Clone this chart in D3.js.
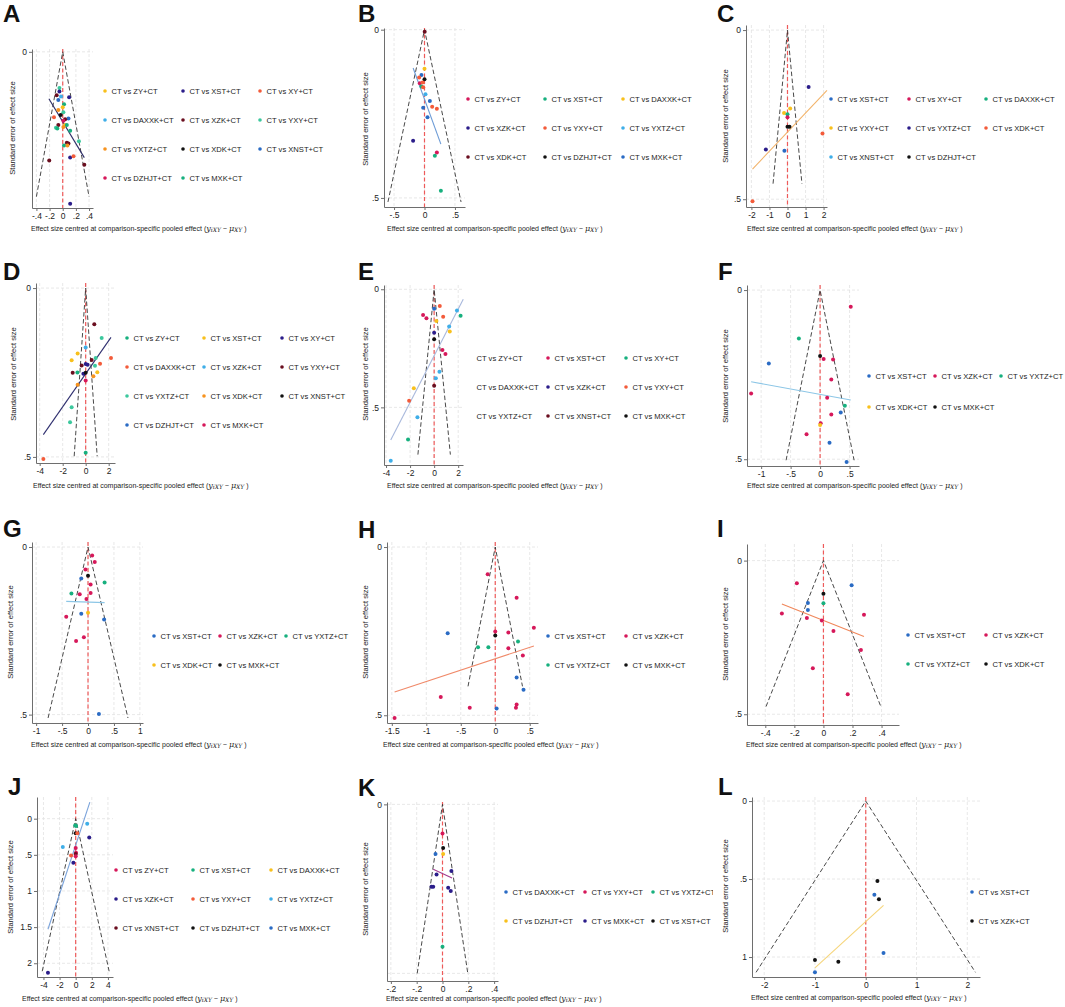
<!DOCTYPE html>
<html>
<head>
<meta charset="utf-8">
<script src="https://cdn.jsdelivr.net/npm/d3@7"></script>
<style>
  body { margin: 0; background: #fff; }
  svg { display: block; }
  text { font-family: "Liberation Sans", Arial, sans-serif; }
</style>
</head>
<body>
<svg id="chart" width="1065" height="1007"></svg>
<script>
// ---- data: points are [effect size centred, standard error, comparison] ----
const seriesA = ['ZY', 'XST', 'XY', 'DAXXK', 'XZK', 'YXY', 'YXTZ', 'XDK', 'XNST', 'DZHJT', 'MXK'];
const pointsA = [
    [-0.05, 0.051, 'YXY'], [-0.05, 0.056, 'XST'], [-0.092, 0.061, 'XZK'], [-0.026, 0.063, 'DAXXK'],
    [-0.067, 0.068, 'XNST'], [0.097, 0.064, 'XST'], [0.02, 0.074, 'MXK'], [0, 0.078, 'ZY'],
    [-0.067, 0.082, 'YXTZ'], [0.01, 0.085, 'YXY'], [-0.133, 0.092, 'XY'], [-0.031, 0.089, 'XDK'],
    [0.087, 0.094, 'XNST'], [0.036, 0.095, 'XZK'], [0.01, 0.097, 'DZHJT'], [-0.067, 0.103, 'XZK'],
    [0.036, 0.103, 'ZY'], [0.062, 0.103, 'MXK'], [-0.103, 0.107, 'YXY'], [-0.082, 0.108, 'MXK'],
    [0.01, 0.106, 'YXTZ'], [0.113, 0.111, 'MXK'], [0.246, 0.126, 'YXY'], [0.062, 0.128, 'XZK'],
    [0.087, 0.129, 'XZK'], [0.02, 0.132, 'MXK'], [0.072, 0.132, 'YXTZ'], [0.113, 0.149, 'XST'],
    [0.164, 0.147, 'XY'], [-0.205, 0.153, 'XZK'], [0.328, 0.159, 'XZK'], [0.113, 0.214, 'XST']
];
const fitA = [[-0.21, 0.066], [0.328, 0.149]];
const funnelA = [0.4, 0.204];
const xTicksA = [-0.4, -0.2, 0, 0.2, 0.4];
const yTicksA = [0];

const seriesB = ['ZY', 'XST', 'DAXXK', 'XZK', 'YXY', 'YXTZ', 'XDK', 'DZHJT', 'MXK'];
const pointsB = [
    [0.003, 0.006, 'XDK'], [0, 0.116, 'DAXXK'], [-0.05, 0.135, 'MXK'], [-0.088, 0.142, 'YXY'],
    [0, 0.147, 'DZHJT'], [-0.077, 0.159, 'ZY'], [-0.033, 0.157, 'YXY'], [-0.05, 0.169, 'XST'],
    [-0.022, 0.171, 'YXY'], [0.016, 0.192, 'YXTZ'], [0.088, 0.212, 'MXK'], [0.126, 0.229, 'YXY'],
    [0.203, 0.235, 'YXY'], [-0.022, 0.232, 'MXK'], [0.049, 0.26, 'MXK'], [-0.187, 0.33, 'XZK'],
    [0.203, 0.365, 'ZY'], [0.17, 0.375, 'XST'], [0.269, 0.479, 'XST']
];
const fitB = [[-0.187, 0.114], [0.269, 0.34]];
const funnelB = [0.6, 0.512];
const xTicksB = [-0.5, 0, 0.5];
const yTicksB = [0, 0.5];

const seriesC = ['XST', 'XY', 'DAXXK', 'YXY', 'YXTZ', 'XDK', 'XNST', 'DZHJT'];
const pointsC = [
    [1.17, 0.168, 'YXTZ'], [0.15, 0.232, 'YXY'], [-0.19, 0.245, 'YXY'], [0, 0.249, 'DAXXK'],
    [0, 0.258, 'XY'], [0, 0.286, 'DZHJT'], [0.11, 0.286, 'DZHJT'], [1.94, 0.306, 'XDK'],
    [-1.2, 0.353, 'YXTZ'], [-0.17, 0.357, 'XST'], [-1.94, 0.506, 'XDK']
];
const fitC = [[-1.94, 0.411], [2.19, 0.178]];
const funnelC = [0.8, 0.454];
const xTicksC = [-2, -1, 0, 1, 2];
const yTicksC = [0, 0.5];

const seriesD = ['ZY', 'XST', 'XY', 'DAXXK', 'XZK', 'YXY', 'YXTZ', 'XDK', 'XNST', 'DZHJT', 'MXK'];
const pointsD = [
    [0.75, 0.107, 'YXY'], [1.39, 0.148, 'YXTZ'], [0, 0.176, 'XZK'], [-0.7, 0.194, 'XST'],
    [2.2, 0.207, 'DAXXK'], [0.87, 0.207, 'YXTZ'], [-1.22, 0.214, 'XST'], [0.52, 0.213, 'YXY'],
    [1.25, 0.224, 'DAXXK'], [0, 0.225, 'XY'], [0.17, 0.227, 'XY'], [-0.35, 0.229, 'YXY'],
    [0.81, 0.23, 'YXTZ'], [-0.72, 0.25, 'ZY'], [-1.13, 0.251, 'YXY'], [1.01, 0.249, 'XST'],
    [-0.2, 0.254, 'XY'], [0, 0.251, 'XNST'], [0.67, 0.261, 'XDK'], [0, 0.274, 'MXK'],
    [-0.7, 0.286, 'XDK'], [-1.22, 0.353, 'YXTZ'], [-1.36, 0.397, 'YXTZ'], [0, 0.488, 'ZY'],
    [-3.68, 0.506, 'DAXXK']
];
const fitD = [[-3.68, 0.434], [2.2, 0.146]];
const funnelD = [1.0, 0.498];
const xTicksD = [-4, -2, 0, 2];
const yTicksD = [0, 0.5];

const seriesE = ['ZY', 'XST', 'XY', 'DAXXK', 'XZK', 'YXY', 'YXTZ', 'XNST', 'MXK'];
const hiddenMarkersE = ['ZY', 'DAXXK', 'YXTZ'];
const pointsE = [
    [0.47, 0.071, 'YXY'], [0, 0.083, 'DAXXK'], [1.9, 0.09, 'YXTZ'], [2.2, 0.112, 'XY'],
    [-0.92, 0.109, 'XST'], [-0.64, 0.123, 'XST'], [0.75, 0.116, 'YXY'], [0.19, 0.134, 'ZY'],
    [1.25, 0.158, 'YXTZ'], [1.3, 0.179, 'ZY'], [0, 0.184, 'XZK'], [0, 0.212, 'MXK'],
    [0.69, 0.257, 'XST'], [0.94, 0.274, 'XST'], [0.44, 0.349, 'YXTZ'], [0.14, 0.377, 'YXTZ'],
    [0, 0.408, 'XNST'], [-1.69, 0.419, 'ZY'], [-2.08, 0.472, 'YXY'], [-1.39, 0.542, 'YXTZ'],
    [-2.17, 0.636, 'XY'], [-3.61, 0.726, 'YXTZ']
];
const fitE = [[-3.61, 0.638], [2.42, 0.042]];
const funnelE = [1.35, 0.70];
const xTicksE = [-4, -2, 0, 2];
const yTicksE = [0, 0.5];

const seriesF = ['XST', 'XZK', 'YXTZ', 'XDK', 'MXK'];
const pointsF = [
    [0.52, 0.049, 'XZK'], [-0.36, 0.143, 'YXTZ'], [0, 0.195, 'MXK'], [0.06, 0.204, 'XZK'],
    [0.22, 0.205, 'XZK'], [-0.87, 0.217, 'XST'], [0.19, 0.264, 'XZK'], [-1.17, 0.306, 'XZK'],
    [0.12, 0.318, 'XZK'], [0.42, 0.342, 'YXTZ'], [0.35, 0.362, 'XST'], [0.19, 0.368, 'XZK'],
    [0.01, 0.394, 'XZK'], [0, 0.399, 'XDK'], [-0.23, 0.426, 'XZK'], [0.16, 0.451, 'XST'],
    [0.45, 0.508, 'XST']
];
const fitF = [[-1.17, 0.271], [0.52, 0.325]];
const funnelF = [0.577, 0.503];
const xTicksF = [-1, -0.5, 0, 0.5];
const yTicksF = [0, 0.5];

const seriesG = ['XST', 'XZK', 'YXTZ', 'XDK', 'MXK'];
const pointsG = [
    [0.08, 0.025, 'XZK'], [0.13, 0.045, 'XZK'], [-0.05, 0.067, 'XZK'], [0, 0.086, 'MXK'],
    [-0.13, 0.094, 'XST'], [0.32, 0.106, 'YXTZ'], [0.05, 0.112, 'XZK'], [-0.32, 0.139, 'YXTZ'],
    [-0.16, 0.141, 'XZK'], [0.05, 0.137, 'XZK'], [-0.03, 0.155, 'XZK'], [-0.13, 0.199, 'XST'],
    [0, 0.196, 'XDK'], [-0.42, 0.208, 'XZK'], [0.31, 0.216, 'XST'], [-0.08, 0.269, 'XZK'],
    [-0.23, 0.28, 'XZK'], [0.21, 0.498, 'XST']
];
const fitG = [[-0.42, 0.162], [0.32, 0.166]];
const funnelG = [0.77, 0.51];
const xTicksG = [-1, -0.5, 0, 0.5, 1];
const yTicksG = [0, 0.5];

const seriesH = ['XST', 'XZK', 'YXTZ', 'MXK'];
const pointsH = [
    [-0.11, 0.081, 'XZK'], [0.31, 0.151, 'XZK'], [0.56, 0.24, 'XZK'], [-0.69, 0.256, 'XST'],
    [0, 0.251, 'XZK'], [0.19, 0.254, 'XZK'], [0, 0.263, 'MXK'], [0.33, 0.281, 'YXTZ'],
    [-0.25, 0.298, 'YXTZ'], [-0.1, 0.298, 'YXTZ'], [0.19, 0.301, 'XZK'], [0.4, 0.322, 'XZK'],
    [0.31, 0.388, 'XST'], [0.41, 0.424, 'XST'], [-0.79, 0.446, 'XZK'], [0.31, 0.468, 'XZK'],
    [-0.37, 0.478, 'XZK'], [0.3, 0.478, 'XZK'], [0.02, 0.48, 'XST'], [-1.46, 0.508, 'XZK']
];
const fitH = [[-1.46, 0.431], [0.56, 0.294]];
const funnelH = [0.395, 0.414];
const xTicksH = [-1.5, -1, -0.5, 0, 0.5];
const yTicksH = [0, 0.5];

const seriesI = ['XST', 'XZK', 'YXTZ', 'XDK'];
const pointsI = [
    [-0.183, 0.074, 'XZK'], [0.194, 0.08, 'XST'], [0, 0.108, 'XDK'], [-0.107, 0.138, 'XST'],
    [0, 0.139, 'YXTZ'], [-0.107, 0.161, 'XST'], [-0.286, 0.172, 'XZK'], [0.279, 0.176, 'XZK'],
    [-0.114, 0.187, 'XZK'], [-0.011, 0.195, 'XZK'], [0.069, 0.229, 'XZK'], [0.258, 0.291, 'XZK'],
    [-0.073, 0.35, 'XZK'], [0.167, 0.435, 'XZK']
];
const fitI = [[-0.286, 0.141], [0.279, 0.247]];
const funnelI = [0.395, 0.475];
const xTicksI = [-0.4, -0.2, 0, 0.2, 0.4];
const yTicksI = [0, 0.5];

const seriesJ = ['ZY', 'XST', 'DAXXK', 'XZK', 'YXY', 'YXTZ', 'XNST', 'DZHJT', 'MXK'];
const pointsJ = [
    [-0.05, 0.09, 'XST'], [0.05, 0.1, 'XST'], [1.43, 0.07, 'YXTZ'], [0, 0.2, 'DZHJT'],
    [0.2, 0.2, 'YXY'], [1.68, 0.26, 'XZK'], [-1.6, 0.39, 'YXTZ'], [0, 0.405, 'ZY'],
    [-0.57, 0.51, 'YXY'], [0.04, 0.47, 'ZY'], [0, 0.49, 'XNST'], [0, 0.52, 'ZY'],
    [-0.29, 0.61, 'XZK'], [-3.44, 2.13, 'XZK']
];
const fitJ = [[-3.44, 1.53], [1.76, -0.23]];
const funnelJ = [4.15, 2.11];
const xTicksJ = [-4, -2, 0, 2, 4];
const yTicksJ = [0, 0.5, 1, 1.5, 2];

const seriesK = ['DAXXK', 'YXY', 'YXTZ', 'DZHJT', 'MXK', 'XST'];
const pointsK = [
    [0, 0.0173, 'YXY'], [0.005, 0.0258, 'XST'], [0.005, 0.0293, 'DZHJT'], [-0.054, 0.0293, 'DAXXK'],
    [0.069, 0.0394, 'MXK'], [-0.046, 0.0415, 'MXK'], [-0.072, 0.0488, 'MXK'], [-0.085, 0.0488, 'MXK'],
    [0.044, 0.0494, 'MXK'], [0.064, 0.0512, 'MXK'], [0, 0.0843, 'YXTZ']
];
const fitK = [[-0.072, 0.0384], [0.074, 0.0435]];
const funnelK = [0.196, 0.1];
const xTicksK = [-0.4, -0.2, 0, 0.2, 0.4];
const xLabelsK = ['-.2', '-.2', '0', '.2', '.4'];
const yTicksK = [0];
const yGridK = [0, 0.1];

const seriesL = ['XST', 'XZK'];
const pointsL = [
    [0.23, 0.513, 'XZK'], [0.17, 0.6, 'XST'], [0.26, 0.63, 'XZK'], [0.35, 0.974, 'XST'],
    [-1.0, 1.019, 'XZK'], [-0.54, 1.03, 'XZK'], [-1.0, 1.098, 'XST']
];
const fitL = [[-1.0, 1.07], [0.35, 0.669]];
const funnelL = [2.16, 1.098];
const xTicksL = [-2, -1, 0, 1, 2];
const yTicksL = [0, 0.5, 1];

// ---- styles ----
const PALETTE = {
    crimson: '#d6185a', green: '#17b07e', yellow: '#f8c01c', navy: '#2b1d8a',
    tomato: '#f35b3a', sky: '#3faee8', maroon: '#6a0e1f', mint: '#3cc89d',
    orange: '#f7931e', black: '#111111', blue: '#2a6bc4'
};
const colorsA = ['yellow', 'navy', 'tomato', 'sky', 'maroon', 'mint', 'orange', 'black', 'blue', 'crimson', 'green'];
const colorsB = ['crimson', 'green', 'yellow', 'navy', 'tomato', 'sky', 'maroon', 'black', 'blue'];
const colorsC = ['blue', 'crimson', 'green', 'yellow', 'navy', 'tomato', 'sky', 'black'];
const colorsD = ['green', 'yellow', 'navy', 'tomato', 'sky', 'maroon', 'mint', 'orange', 'black', 'blue', 'crimson'];
const colorsE = ['yellow', 'crimson', 'green', 'blue', 'navy', 'tomato', 'sky', 'maroon', 'black'];
const colorsFG = ['blue', 'crimson', 'green', 'yellow', 'black'];
const colorsH = ['blue', 'crimson', 'green', 'black'];
const colorsI = ['blue', 'crimson', 'green', 'black'];
const colorsJ = ['crimson', 'green', 'yellow', 'navy', 'tomato', 'sky', 'maroon', 'black', 'blue'];
const colorsK = ['blue', 'crimson', 'green', 'yellow', 'navy', 'black'];
const colorsL = ['blue', 'black'];

const TEXT = '#222';
const AXIS = '#6e6e6e';
const GRID = '#e2e2e2';

// ---- layout per panel ----
const panels = [
    { id: 'A', letter: [3, 22], box: [32, 93, 49, 208], xDom: [-0.467, 0.46], yDom: [-0.004, 0.22],
      series: seriesA, colors: colorsA, points: pointsA, fit: fitA, fitColor: '#2c2c66', funnel: funnelA,
      xTicks: xTicksA, yTicks: yTicksA, legCols: [105, 183, 260], legRows: [91, 120, 149, 178],
      yTitle: [12, 128], xTitle: [31, 228] },
    { id: 'B', letter: [358, 21.5], box: [384, 465, 28, 207], xDom: [-0.665, 0.665], yDom: [-0.005, 0.527],
      series: seriesB, colors: colorsB, points: pointsB, fit: fitB, fitColor: '#6c9bd6', funnel: funnelB,
      xTicks: xTicksB, yTicks: yTicksB, legCols: [468, 545, 623], legRows: [99, 128, 157],
      yTitle: [365, 119], xTitle: [387, 228] },
    { id: 'C', letter: [717, 22], box: [746, 827, 25, 207], xDom: [-2.3, 2.19], yDom: [-0.015, 0.523],
      series: seriesC, colors: colorsC, points: pointsC, fit: fitC, fitColor: '#f2b36a', funnel: funnelC,
      xTicks: xTicksC, yTicks: yTicksC, legCols: [831, 909, 986], legRows: [99, 128, 157],
      yTitle: [725, 116], xTitle: [747, 228] },
    { id: 'D', letter: [3, 280], box: [36, 115, 283, 463], xDom: [-4.32, 2.55], yDom: [-0.015, 0.518],
      series: seriesD, colors: colorsD, points: pointsD, fit: fitD, fitColor: '#2f2f6f', funnel: funnelD,
      xTicks: xTicksD, yTicks: yTicksD, legCols: [127, 204, 282], legRows: [338, 367, 396, 425],
      yTitle: [13, 374], xTitle: [33, 485] },
    { id: 'E', letter: [358, 280], box: [384, 463, 285, 465], xDom: [-4.17, 2.4], yDom: [-0.018, 0.744],
      series: seriesE, colors: colorsE, hidden: hiddenMarkersE, points: pointsE, fit: fitE, fitColor: '#a8b8dc', funnel: funnelE,
      xTicks: xTicksE, yTicks: yTicksE, legCols: [470, 548, 626], legRows: [358, 387, 416],
      yTitle: [365, 374], xTitle: [387, 485] },
    { id: 'F', letter: [718, 280], box: [747, 859, 285, 466], xDom: [-1.24, 0.66], yDom: [-0.015, 0.52],
      series: seriesF, colors: colorsFG, points: pointsF, fit: fitF, fitColor: '#8cc6e6', funnel: funnelF,
      xTicks: xTicksF, yTicks: yTicksF, legCols: [869, 935, 1001], legRows: [376, 407],
      yTitle: [725, 376], xTitle: [747, 485] },
    { id: 'G', letter: [3, 537], box: [32, 143, 542, 723], xDom: [-1.08, 1.06], yDom: [-0.015, 0.525],
      series: seriesG, colors: colorsFG, points: pointsG, fit: fitG, fitColor: '#8cc6e6', funnel: funnelG,
      xTicks: xTicksG, yTicks: yTicksG, legCols: [154, 220, 286], legRows: [636, 665],
      yTitle: [10, 632], xTitle: [31, 744] },
    { id: 'H', letter: [358, 538], box: [387, 538, 542, 723], xDom: [-1.57, 0.62], yDom: [-0.015, 0.523],
      series: seriesH, colors: colorsH, points: pointsH, fit: fitH, fitColor: '#f08a6a', funnel: funnelH,
      xTicks: xTicksH, yTicks: yTicksH, legCols: [548, 626], legRows: [636, 665],
      yTitle: [365, 632], xTitle: [383, 744] },
    { id: 'I', letter: [717, 537], box: [747, 899, 544, 725], xDom: [-0.526, 0.52], yDom: [-0.054, 0.535],
      series: seriesI, colors: colorsI, points: pointsI, fit: fitI, fitColor: '#f0875a', funnel: funnelI,
      xTicks: xTicksI, yTicks: yTicksI, legCols: [908, 986], legRows: [635, 664],
      yTitle: [725, 634], xTitle: [746, 744] },
    { id: 'J', letter: [8, 795], box: [37, 113, 797, 977], xDom: [-4.8, 4.63], yDom: [-0.3, 2.19],
      series: seriesJ, colors: colorsJ, points: pointsJ, fit: fitJ, fitColor: '#7aa3db', funnel: funnelJ,
      xTicks: xTicksJ, yTicks: yTicksJ, legCols: [116, 193, 271], legRows: [870, 899, 928],
      yTitle: [10, 887], xTitle: [22, 998] },
    { id: 'K', letter: [358, 796], box: [387, 498, 802, 981], xDom: [-0.43, 0.43], yDom: [-0.0014, 0.1045],
      series: seriesK, colors: colorsK, points: pointsK, fit: fitK, fitColor: '#a0388f', funnel: funnelK,
      xTicks: xTicksK, xLabels: xLabelsK, yTicks: yTicksK, yGrid: yGridK, legCols: [506, 585, 653], legRows: [892, 921],
      yTitle: [365, 889], xTitle: [386, 998], clipRight: 713 },
    { id: 'L', letter: [718, 795], box: [752, 980, 797, 977], xDom: [-2.24, 2.25], yDom: [-0.026, 1.128],
      series: seriesL, colors: colorsL, points: pointsL, fit: fitL, fitColor: '#f6d57a', funnel: funnelL,
      xTicks: xTicksL, yTicks: yTicksL, legCols: [972], legRows: [892, 921],
      yTitle: [725, 886], xTitle: [751, 997] }
];

// Stata style numbers: .5, -.2, 1.5
const stataFmt = v => v === 0 ? '0' : String(+v.toFixed(3)).replace(/^(-?)0\./, '$1.');

const svg = d3.select('#chart');
svg.append('rect').attr('width', 1065).attr('height', 1007).attr('fill', '#fff');

panels.forEach(drawPanel);

function drawPanel(p) {
    const [left, right, top, bottom] = p.box;
    const g = svg.append('g').attr('class', 'panel-' + p.id);

    if (p.clipRight) {
        const cid = 'clip-' + p.id;
        svg.append('defs').append('clipPath').attr('id', cid)
            .append('rect').attr('x', 0).attr('y', 0).attr('width', p.clipRight).attr('height', 1007);
        g.attr('clip-path', `url(#${cid})`);
    }

    const x = d3.scaleLinear().domain(p.xDom).range([left, right]);
    const y = d3.scaleLinear().domain(p.yDom).range([top, bottom]);
    const colorOf = code => PALETTE[p.colors[p.series.indexOf(code)]];

    // panel letter
    g.append('text')
        .attr('x', p.letter[0])
        .attr('y', p.letter[1])
        .style('font-size', '24px')
        .style('font-weight', 'bold')
        .style('fill', '#111')
        .text(p.id);

    // grid
    g.selectAll('line.vgrid')
        .data(p.xTicks)
        .join('line')
        .attr('class', 'vgrid')
        .attr('x1', d => x(d)).attr('x2', d => x(d))
        .attr('y1', top).attr('y2', bottom)
        .style('stroke', GRID)
        .style('stroke-width', 0.8)
        .style('stroke-dasharray', '3,2');

    g.selectAll('line.hgrid')
        .data(p.yGrid || p.yTicks)
        .join('line')
        .attr('class', 'hgrid')
        .attr('x1', left).attr('x2', right)
        .attr('y1', d => y(d)).attr('y2', d => y(d))
        .style('stroke', GRID)
        .style('stroke-width', 0.8)
        .style('stroke-dasharray', '3,2');

    // axes
    const xAxis = d3.axisBottom(x)
        .tickValues(p.xTicks)
        .tickFormat((d, i) => p.xLabels ? p.xLabels[i] : stataFmt(d))
        .tickSize(3)
        .tickSizeOuter(0)
        .tickPadding(1.5);
    const xg = g.append('g').attr('transform', `translate(0,${bottom})`).call(xAxis);

    const yAxis = d3.axisLeft(y)
        .tickValues(p.yTicks)
        .tickFormat(stataFmt)
        .tickSize(3)
        .tickSizeOuter(0)
        .tickPadding(2);
    const yg = g.append('g').attr('transform', `translate(${left},0)`).call(yAxis);

    [xg, yg].forEach(ax => {
        ax.select('.domain').style('stroke', AXIS).style('stroke-width', 1);
        ax.selectAll('.tick line').style('stroke', AXIS);
        ax.selectAll('.tick text')
            .style('fill', TEXT)
            .style('font-size', '8.5px')
            .style('font-family', '"Liberation Sans", Arial, sans-serif');
    });

    // null line
    g.append('line')
        .attr('x1', x(0)).attr('x2', x(0))
        .attr('y1', top).attr('y2', bottom)
        .style('stroke', '#ee5a5a')
        .style('stroke-width', 1.2)
        .style('stroke-dasharray', '4,2.5');

    // funnel (pseudo confidence limits)
    const [half, seMax] = p.funnel;
    g.append('path')
        .datum([[-half, seMax], [0, 0], [half, seMax]])
        .attr('d', d3.line().x(d => x(d[0])).y(d => y(d[1])))
        .style('fill', 'none')
        .style('stroke', '#333')
        .style('stroke-width', 0.9)
        .style('stroke-dasharray', '4.5,2.5');

    // small-study effect line
    g.append('path')
        .datum(p.fit)
        .attr('d', d3.line().x(d => x(d[0])).y(d => y(d[1])))
        .style('fill', 'none')
        .style('stroke', p.fitColor)
        .style('stroke-width', 1.1);

    // studies
    g.selectAll('circle.pt')
        .data(p.points)
        .join('circle')
        .attr('class', 'pt')
        .attr('cx', d => x(d[0]))
        .attr('cy', d => y(d[1]))
        .attr('r', 2)
        .style('fill', d => colorOf(d[2]));

    // legend
    const ncol = p.legCols.length;
    const items = g.selectAll('g.leg')
        .data(p.series)
        .join('g')
        .attr('class', 'leg')
        .attr('transform', (d, i) => `translate(${p.legCols[i % ncol]},${p.legRows[Math.floor(i / ncol)]})`);

    items.filter(d => !(p.hidden || []).includes(d))
        .append('circle')
        .attr('r', 1.8)
        .style('fill', d => colorOf(d));

    items.append('text')
        .attr('x', 6.5)
        .attr('y', 2.8)
        .style('font-size', '7.6px')
        .style('fill', TEXT)
        .text(d => `CT vs ${d}+CT`);

    // axis titles
    g.append('text')
        .attr('transform', `translate(${p.yTitle[0] + 2.7},${p.yTitle[1]}) rotate(-90)`)
        .attr('text-anchor', 'middle')
        .style('font-size', '7.6px')
        .style('fill', TEXT)
        .text('Standard error of effect size');

    const xt = g.append('text')
        .attr('x', p.xTitle[0])
        .attr('y', p.xTitle[1] + 2.5)
        .style('font-size', '7px')
        .style('fill', TEXT);
    xt.append('tspan').text('Effect size centred at comparison-specific pooled effect (');
    xt.append('tspan').style('font-style', 'italic').style('font-family', '"DejaVu Serif", serif').style('font-size', '8px').text('y');
    xt.append('tspan').attr('dy', 1.5).style('font-size', '6px').style('font-style', 'italic')
        .style('font-family', '"DejaVu Serif", serif').text('iXY');
    xt.append('tspan').attr('dy', -1.5).style('font-size', '7px').text(' \u2212 ');
    xt.append('tspan').style('font-style', 'italic').style('font-family', '"DejaVu Serif", serif').style('font-size', '8px').text('\u03bc');
    xt.append('tspan').attr('dy', 1.5).style('font-size', '6px').style('font-style', 'italic')
        .style('font-family', '"DejaVu Serif", serif').text('XY');
    xt.append('tspan').attr('dy', -1.5).text(' )');
}
</script>
</body>
</html>
